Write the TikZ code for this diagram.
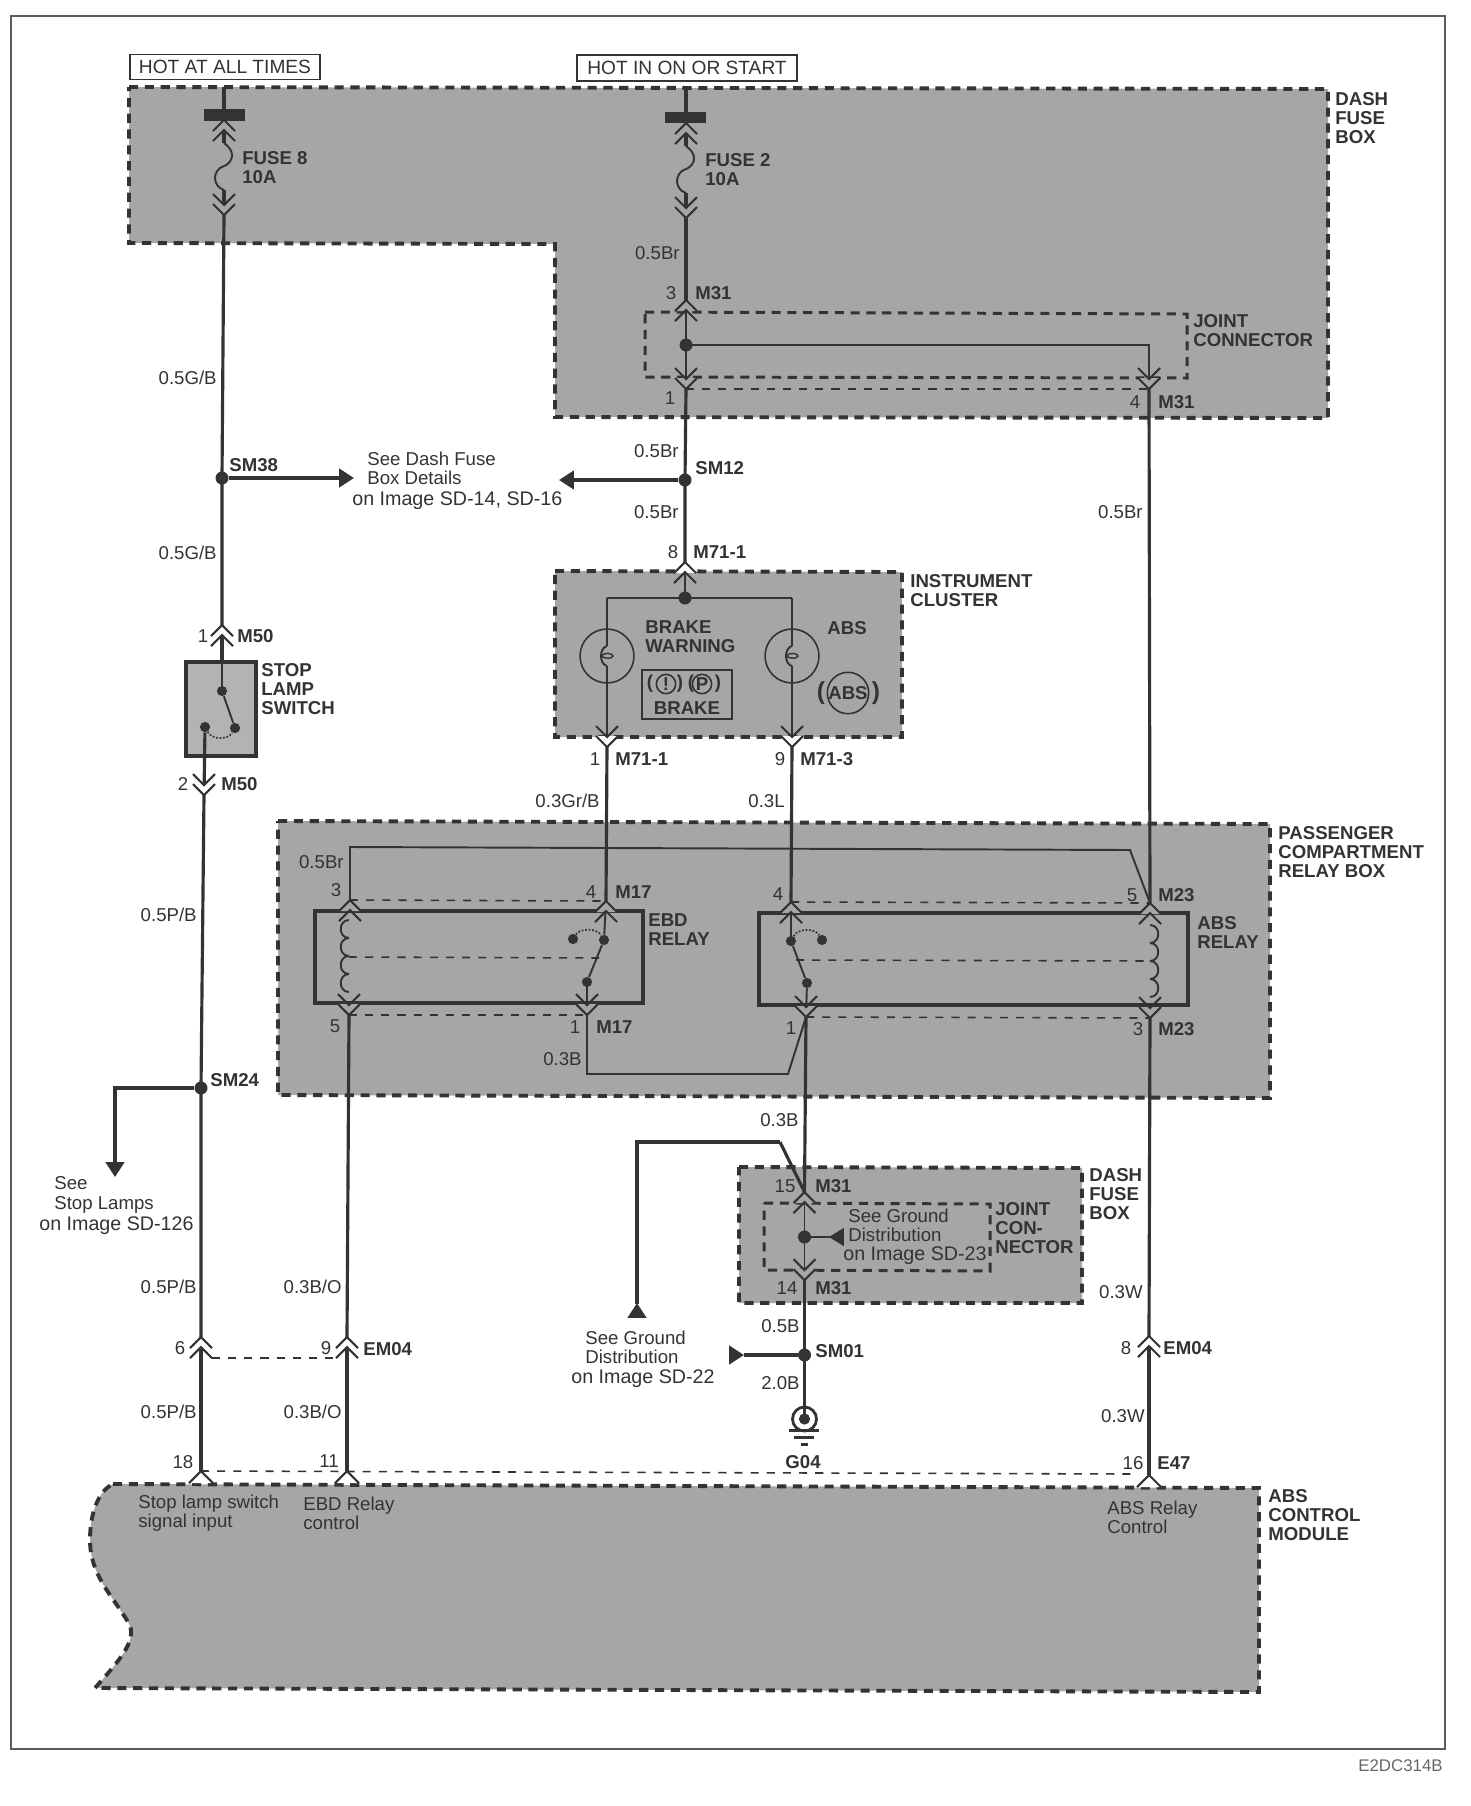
\documentclass[tikz,border=0pt]{standalone}
\usepackage{fontspec}
\setmainfont{Liberation Sans}
\usetikzlibrary{positioning,arrows.meta}
\definecolor{ink}{gray}{0.2}
\definecolor{boxgray}{gray}{0.65}
\tikzset{
  lbl/.style={inner sep=0pt,anchor=west,align=left,text=ink,font=\fontsize{10.6}{11}\selectfont},
  lbr/.style={lbl,anchor=east},
  tag/.style={lbl,font=\fontsize{10.6}{10.8}\selectfont\bfseries},
  see/.style={lbl,font=\fontsize{11.2}{11}\selectfont},
  hot/.style={draw=ink,line width=1pt,fill=white,inner sep=0pt,text=ink,font=\fontsize{10.9}{11}\selectfont},
  wire/.style={draw=ink,line width=1.8pt},
  thin wire/.style={draw=ink,line width=1.1pt},
  harness/.style={draw=ink,line width=0.9pt,dash pattern=on 4.6pt off 4.6pt},
  areabox/.style={draw=ink,fill=boxgray,line width=2.2pt,dash pattern=on 5.2pt off 3.8pt},
  jointbox/.style={draw=ink,line width=1.7pt,dash pattern=on 5.2pt off 3.8pt},
  relay/.style={draw=ink,line width=2.3pt},
  dot/.style={circle,fill=ink,inner sep=0pt,minimum size=7.4pt},
  sdot/.style={circle,fill=ink,inner sep=0pt,minimum size=5.8pt},
  bulb/.style={circle,draw=ink,line width=0.9pt,inner sep=0pt,minimum size=30.7pt},
  chev/.style={draw=ink,line width=1.2pt},
  bighead/.style={-{Triangle[length=8.5pt,width=10.5pt]}},
  conup/.pic={
    \path[chev,pic actions](-11,11)--(0,0)--(11,11);
    \path[chev](-11,21)--(0,10)--(11,21);
  },
  condown/.pic={
    \path[chev,pic actions](-11,-11)--(0,0)--(11,-11);
    \path[chev](-11,-21)--(0,-10)--(11,-21);
  },
  conone/.pic={
    \path[chev,pic actions](-12,12)--(0,0)--(12,12);
  },
  coil/.pic={
    \foreach \k in {0,1,2,3}{
      \draw[thin wire](0,18*\k) .. controls (-11,18*\k) and (-11,18*\k+18) .. (0,18*\k+18);
    }
  },
  filament/.pic={
    \draw[thin wire](0,-10) .. controls (-8,-8) and (-8,8) .. (0,10);
    \draw[draw=ink,line width=0.8pt](-6,0) .. controls (-2,-4) and (5,-3) .. (6,0) .. controls (5,3) and (-2,3) .. (-6,0);
  }
}
\begin{document}
\begin{tikzpicture}[x=0.02cm,y=-0.02cm]
\useasboundingbox (0,0) rectangle (1471,1806);
\draw [draw=ink!80!white,line width=0.8pt](11,16) rectangle (1445,1749);

\path [areabox](129,87)--(1328,89)--(1328,418)--(555,417)--(555,244)--(129,243)--cycle;
\path [areabox](278,821)--(1270,824)--(1270,1098)--(278,1095)--cycle;
\path [areabox](555,571)--(902,572)--(902,737)--(555,737)--cycle;
\path [areabox](739,1167)--(1082,1168)--(1082,1303)--(739,1303)--cycle;
\path [areabox](113,1484)--(1259,1488)--(1259,1692)--(95,1688) .. controls (115,1665) and (140,1640) .. (128,1622) .. controls (112,1595) and (90,1575) .. (90,1540) .. controls (90,1510) and (100,1490) .. (113,1484);
\draw [draw=ink,fill=boxgray!85!white,line width=1.9pt](186,662) rectangle (256,756);
\path [jointbox](645,312)--(1187,314)--(1187,378)--(645,377)--cycle;
\path [jointbox](764,1203)--(990,1204)--(990,1271)--(764,1270)--cycle;
\path [relay](315,911) rectangle (643,1003);
\path [relay](759,913) rectangle (1188,1005);

\node [hot,minimum width=108pt,minimum height=14.2pt] (hotall) at (225,67) {HOT AT ALL TIMES};
\node [hot,minimum width=125pt,minimum height=14.5pt] (hotstart) at (687,68) {HOT IN ON OR START};

\node [dot] (sm38) at (222,478) {};
\node [dot] (sm12) at (685,480) {};
\node [dot] (jointa) at (686,345) {};
\node [dot] (cluster) at (685,598) {};
\node [dot] (sm24) at (201,1088) {};
\node [dot] (jointb) at (804.5,1237) {};
\node [dot] (sm01) at (804.5,1355) {};
\node [dot,minimum size=6.4pt] (g04) at (804.5,1419) {};
\node [sdot] (stopa) at (222,691) {};
\node [sdot] (stopb) at (235,728) {};
\node [sdot] (stopc) at (205,727) {};
\node [sdot] (ebda) at (573,939) {};
\node [sdot] (ebdb) at (604,940) {};
\node [sdot] (ebdc) at (587,982) {};
\node [sdot] (absa) at (822,940) {};
\node [sdot] (absb) at (791,941) {};
\node [sdot] (absc) at (807,983) {};
\node [bulb] (bulba) at (607,656) {};
\node [bulb] (bulbb) at (792,656) {};

\coordinate (fusea) at (224,87);
\coordinate (fuseat) at (224,143);
\coordinate (fuseam) at (224,166);
\coordinate (fuseab) at (224,190);
\coordinate (fuseao) at (224,215);
\coordinate (fuseb) at (686,89);
\coordinate (fusebt) at (686,146);
\coordinate (fusebm) at (686,169);
\coordinate (fusebb) at (686,193);
\coordinate (fusebo) at (686,218);
\coordinate (m31a) at (686,300);
\coordinate (m31b) at (686,389);
\coordinate (m31c) at (1149,345);
\coordinate (m31d) at (1149,389);
\coordinate (m71a) at (685,562);
\coordinate (m71b) at (607,747);
\coordinate (m71c) at (792,747);
\coordinate (m71d) at (607,598);
\coordinate (m71e) at (792,598);
\coordinate (bulbat) at (607,646);
\coordinate (bulbab) at (607,666);
\coordinate (bulbbt) at (792,646);
\coordinate (bulbbb) at (792,666);
\coordinate (m50a) at (222,625);
\coordinate (m50b) at (204,795);
\coordinate (stoptop) at (222,662);
\coordinate (see38) at (354,478);
\coordinate (see12) at (559,480);
\coordinate (seelamp) at (115,1088);
\coordinate (seelampe) at (115,1177);
\coordinate (m17a) at (350,900);
\coordinate (m17b) at (606,901);
\coordinate (m17c) at (349,1015);
\coordinate (m17d) at (587,1015);
\coordinate (m23a) at (791,902);
\coordinate (m23b) at (1150,903);
\coordinate (m23c) at (806,1017);
\coordinate (m23d) at (1150,1018);
\coordinate (brta) at (350,847);
\coordinate (brtb) at (1130,850);
\coordinate (lowa) at (587,1074);
\coordinate (lowb) at (788,1074);
\coordinate (ebdcoil) at (349,957);
\coordinate (ebdarm) at (599,958);
\coordinate (abscoil) at (1150,961);
\coordinate (absarm) at (796,960);
\coordinate (m31e) at (804.5,1192);
\coordinate (m31f) at (804.5,1280);
\coordinate (gnda) at (780,1142);
\coordinate (gndb) at (637,1142);
\coordinate (gndc) at (637,1304);
\coordinate (gndd) at (637,1318);
\coordinate (gnde) at (637,1303);
\coordinate (smgnda) at (731,1355);
\coordinate (smgndb) at (744,1355);
\coordinate (jgnda) at (842,1237);
\coordinate (jgndb) at (829,1237);
\coordinate (em04a) at (201,1337);
\coordinate (em04b) at (347,1337);
\coordinate (em04c) at (1149,1336);
\coordinate (em04l) at (212,1358);
\coordinate (em04r) at (335,1358);
\coordinate (e47a) at (201,1471);
\coordinate (e47b) at (347,1471);
\coordinate (e47c) at (1149,1475);
\coordinate (e47l) at (1132,1474);

\draw [wire](fusea)--(fuseat);
\draw [thin wire](fuseat) .. controls (240,155) and (228,165) .. (fuseam) .. controls (212,170) and (212,186) .. (fuseab);
\draw [wire](fuseab)--(fuseao);
\draw [wire](fuseao)--(sm38.center)--(m50a);
\draw [wire](fuseb)--(fusebt);
\draw [thin wire](fusebt) .. controls (702,158) and (690,168) .. (fusebm) .. controls (674,173) and (674,189) .. (fusebb);
\draw [wire](fusebb)--(fusebo);
\draw [wire](fusebo)--(m31a);
\draw [thin wire](m31a)--(jointa.center)--(m31b);
\draw [thin wire](jointa.center)--(m31c)--(m31d);
\draw [wire](m31b)--(sm12.center)--(m71a);
\draw [wire](m31d)--(m23b);
\draw [thin wire](m71a)--(cluster.center);
\draw [thin wire](m71d)--(m71e);
\draw [thin wire](m71d)--(bulbat);
\draw [thin wire](bulbab)--(m71b);
\draw [thin wire](m71e)--(bulbbt);
\draw [thin wire](bulbbb)--(m71c);
\draw [wire](m71b)--(m17b);
\draw [wire](m71c)--(m23a);
\draw [thin wire](m17b)--(ebdb);
\draw [thin wire](ebdc)--(ebdb);
\draw [thin wire](ebdc)--(m17d);
\draw [thin wire](m23a)--(absb);
\draw [thin wire](absc)--(absb);
\draw [thin wire](absc)--(m23c);
\draw [thin wire](m17a)--(brta)--(brtb)--(m23b);
\draw [thin wire](m17d)--(lowa)--(lowb)--(m23c);
\draw [wire](m17c)--(em04b);
\draw [wire](m23c)--(m31e);
\draw [wire](m23d)--(em04c);
\draw [thin wire](stopa)--(stoptop);
\draw [wire](stoptop)--(m50a);
\draw [thin wire](stopa)--(stopb);
\draw [wire](stopc)--(m50b);
\draw [wire](m50b)--(sm24.center)--(em04a);
\draw [wire](em04a)--(e47a);
\draw [wire](em04b)--(e47b);
\draw [wire](em04c)--(e47c);
\draw [thin wire](m31e)--(jointb.center)--(m31f);
\draw [wire](m31f)--(sm01.center)--(g04.center);

\draw [wire,bighead](sm38)--(see38);
\draw [wire,bighead](sm12)--(see12);
\draw [wire,bighead](sm24)--(seelamp)--(seelampe);
\draw [wire](gnda)--(gndb)--(gndc);
\draw [wire](gnda)--(m31e);
\draw [wire,bighead](gndd)--(gnde);
\draw [wire](smgndb)--(sm01);
\draw [wire,bighead](smgnda)--(smgndb);
\draw [thin wire](jgnda)--(jointb);
\draw [draw=ink,line width=0pt,bighead](jgnda)--(jgndb);

\draw [harness](m31a |- m31d)--(m31d);
\draw [harness](m17a)--(m17b);
\draw [harness](ebdcoil)--(ebdarm);
\draw [harness](m17c)--(m17d);
\draw [harness](m23a)--(m23b);
\draw [harness](absarm)--(abscoil);
\draw [harness](m23c)--(m23d);
\draw [harness](em04l)--(em04r);
\draw [harness](e47a)--(e47l);

\draw [draw=ink,line width=1pt,densely dotted](stopc) .. controls (212,740) and (228,740) .. (stopb);
\draw [draw=ink,line width=1pt,densely dotted](ebda) .. controls (580,928) and (597,928) .. (ebdb);
\draw [draw=ink,line width=1pt,densely dotted](absb) .. controls (798,928) and (815,928) .. (absa);

\fill [ink](204,109) rectangle (245,121);
\fill [ink](665,112) rectangle (706,123);

\pic [fill=boxgray] at (224,120) {conup};
\pic [fill=boxgray] at (fuseao) {condown};
\pic [fill=boxgray] at (686,123) {conup};
\pic [fill=boxgray] at (fusebo) {condown};
\pic [fill=boxgray] at (m31a) {conup};
\pic [fill=boxgray] at (m31b) {condown};
\pic [fill=boxgray] at (m31d) {condown};
\pic [fill=white] at (m71a) {conup};
\pic [fill=white] at (m71b) {condown};
\pic [fill=white] at (m71c) {condown};
\pic [fill=white] at (m50a) {conup};
\pic [fill=white] at (m50b) {condown};
\pic [fill=boxgray] at (m17a) {conup};
\pic [fill=boxgray] at (m17b) {conup};
\pic [fill=boxgray] at (m17c) {condown};
\pic [fill=boxgray] at (m17d) {condown};
\pic [fill=boxgray] at (m23a) {conup};
\pic [fill=boxgray] at (m23b) {conup};
\pic [fill=boxgray] at (m23c) {condown};
\pic [fill=boxgray] at (m23d) {condown};
\pic [fill=boxgray] at (m31e) {conup};
\pic [fill=boxgray] at (m31f) {condown};
\pic [fill=white] at (em04a) {conup};
\pic [fill=white] at (em04b) {conup};
\pic [fill=white] at (em04c) {conup};
\pic [fill=white] at (e47a) {conone};
\pic [fill=white] at (e47b) {conone};
\pic [fill=white] at (e47c) {conone};
\pic at (349,920) {coil};
\pic [xscale=-1] at (1150,925) {coil};
\pic at (bulba) {filament};
\pic at (bulbb) {filament};

\draw [draw=ink,line width=1.6pt](g04) circle (12);
\draw [draw=ink,line width=1.7pt](789,1430)--(819,1430);
\draw [draw=ink,line width=1.7pt](794,1437)--(814,1437);
\draw [draw=ink,line width=1.7pt](801,1444)--(808,1444);

\draw [draw=ink,line width=0.9pt](642,670) rectangle (732,719);
\node [circle,draw=ink,line width=0.9pt,inner sep=0pt,minimum size=11pt,tag,anchor=center] (warnbang) at (666,684) {!};
\node [circle,draw=ink,line width=0.9pt,inner sep=0pt,minimum size=11pt,tag,anchor=center] (warnpark) at (702,684) {P};
\node [tag,anchor=center] (warnla) at (650,684) {(};
\node [tag,anchor=center] (warnlb) at (680,684) {)};
\node [tag,anchor=center] (warnlc) at (691,684) {(};
\node [tag,anchor=center] (warnld) at (718,684) {)};
\node [tag,anchor=center] (warnbrake) at (687,708) {BRAKE};
\node [circle,draw=ink,line width=0.9pt,inner sep=0pt,minimum size=22.8pt,tag,anchor=center] (absmark) at (848,693) {ABS};
\node [tag,anchor=center,font=\fontsize{14}{14}\selectfont\bfseries] (absla) at (821,693) {(};
\node [tag,anchor=center,font=\fontsize{14}{14}\selectfont\bfseries] (abslb) at (876,693) {)};

\node [tag] (fuse8) at (242,168) {FUSE 8\\10A};
\node [tag] (fuse2) at (705,170) {FUSE 2\\10A};
\node [tag] (dashfuse) at (1335,118) {DASH\\FUSE\\BOX};
\node [tag] (jointname) at (1193,331) {JOINT\\CONNECTOR};
\node [tag] (clustername) at (910,591) {INSTRUMENT\\CLUSTER};
\node [tag] (stopname) at (261,689) {STOP\\LAMP\\SWITCH};
\node [tag] (warnname) at (645,637) {BRAKE\\WARNING};
\node [tag] (absname) at (827,628) {ABS};
\node [tag] (passname) at (1278,852) {PASSENGER\\COMPARTMENT\\RELAY BOX};
\node [tag] (ebdname) at (648,930) {EBD\\RELAY};
\node [tag] (absrelay) at (1197,932) {ABS\\RELAY};
\node [tag] (dashtwo) at (1089,1194) {DASH\\FUSE\\BOX};
\node [tag] (jointtwo) at (995,1228) {JOINT\\CON-\\NECTOR};
\node [tag] (modname) at (1268,1515) {ABS\\CONTROL\\MODULE};

\node [tag] (tm31a) at (695,293) {M31};
\node [tag] (tm31b) at (1158,402) {M31};
\node [tag] (tsm38) at (229,465) {SM38};
\node [tag] (tsm12) at (695,468) {SM12};
\node [tag] (tm71a) at (693,552) {M71-1};
\node [tag] (tm50a) at (237,636) {M50};
\node [tag] (tm50b) at (221,784) {M50};
\node [tag] (tm71b) at (615,759) {M71-1};
\node [tag] (tm71c) at (800,759) {M71-3};
\node [tag] (tm17a) at (615,892) {M17};
\node [tag] (tm23a) at (1158,895) {M23};
\node [tag] (tm17b) at (596,1027) {M17};
\node [tag] (tm23b) at (1158,1029) {M23};
\node [tag] (tsm24) at (210,1080) {SM24};
\node [tag] (tm31c) at (815,1186) {M31};
\node [tag] (tm31d) at (815,1288) {M31};
\node [tag] (tsm01) at (815,1351) {SM01};
\node [tag] (tem04a) at (363,1349) {EM04};
\node [tag] (tem04b) at (1163,1348) {EM04};
\node [tag,anchor=center] (tg04) at (803,1462) {G04};
\node [tag] (te47) at (1157,1463) {E47};

\node [lbl,anchor=center] (p3a) at (671,293) {3};
\node [lbl,anchor=center] (p1a) at (670,398) {1};
\node [lbl,anchor=center] (p4a) at (1135,402) {4};
\node [lbl,anchor=center] (p8a) at (673,552) {8};
\node [lbl,anchor=center] (p1b) at (203,636) {1};
\node [lbl,anchor=center] (p2a) at (183,784) {2};
\node [lbl,anchor=center] (p1c) at (595,759) {1};
\node [lbl,anchor=center] (p9a) at (780,759) {9};
\node [lbl,anchor=center] (p3b) at (336,890) {3};
\node [lbl,anchor=center] (p4b) at (591,892) {4};
\node [lbl,anchor=center] (p4c) at (778,894) {4};
\node [lbl,anchor=center] (p5a) at (1132,895) {5};
\node [lbl,anchor=center] (p5b) at (335,1026) {5};
\node [lbl,anchor=center] (p1d) at (575,1027) {1};
\node [lbl,anchor=center] (p1e) at (791,1028) {1};
\node [lbl,anchor=center] (p3c) at (1138,1029) {3};
\node [lbl,anchor=center] (p15) at (785,1186) {15};
\node [lbl,anchor=center] (p14) at (787,1288) {14};
\node [lbl,anchor=center] (p6) at (180,1348) {6};
\node [lbl,anchor=center] (p9b) at (326,1348) {9};
\node [lbl,anchor=center] (p8b) at (1126,1348) {8};
\node [lbl,anchor=center] (p18) at (183,1462) {18};
\node [lbl,anchor=center] (p11) at (329,1461) {11};
\node [lbl,anchor=center] (p16) at (1133,1463) {16};

\node [lbr] (wa) at (680,253) {0.5Br};
\node [lbr] (wb) at (217,378) {0.5G/B};
\node [lbr] (wc) at (679,451) {0.5Br};
\node [lbr] (wd) at (679,512) {0.5Br};
\node [lbr] (we) at (1143,512) {0.5Br};
\node [lbr] (wf) at (217,553) {0.5G/B};
\node [lbr] (wg) at (600,801) {0.3Gr/B};
\node [lbr] (wh) at (785,801) {0.3L};
\node [lbr] (wi) at (344,862) {0.5Br};
\node [lbr] (wj) at (197,915) {0.5P/B};
\node [lbr] (wk) at (582,1059) {0.3B};
\node [lbr] (wl) at (799,1120) {0.3B};
\node [lbr] (wm) at (197,1287) {0.5P/B};
\node [lbr] (wn) at (342,1287) {0.3B/O};
\node [lbr] (wo) at (1143,1292) {0.3W};
\node [lbr] (wp) at (800,1326) {0.5B};
\node [lbr] (wq) at (800,1383) {2.0B};
\node [lbr] (wr) at (197,1412) {0.5P/B};
\node [lbr] (ws) at (342,1412) {0.3B/O};
\node [lbr] (wt) at (1145,1416) {0.3W};

\node [lbl] (seefuse) at (367,468) {See Dash Fuse\\Box Details};
\node [see] (seefusei) at (352,501) {on Image SD-14, SD-16};
\node [lbl] (seestop) at (54,1195) {See\\Stop Lamps};
\node [see] (seestopi) at (39,1226) {on Image SD-126};
\node [lbl] (seeground) at (585,1347) {See Ground\\Distribution};
\node [see] (seegroundi) at (571,1379) {on Image SD-22};
\node [lbl] (seejoint) at (848,1225) {See Ground\\Distribution};
\node [see] (seejointi) at (843,1256) {on Image SD-23};

\node [lbl] (modstop) at (138,1513) {Stop lamp switch\\signal input};
\node [lbl] (modebd) at (303,1513) {EBD Relay\\control};
\node [lbl] (modabs) at (1107,1517) {ABS Relay\\Control};
\node [lbl,anchor=east,text=ink!75!white,font=\fontsize{9.6}{11}\selectfont] (figid) at (1443,1766) {E2DC314B};
\end{tikzpicture}
\end{document}
